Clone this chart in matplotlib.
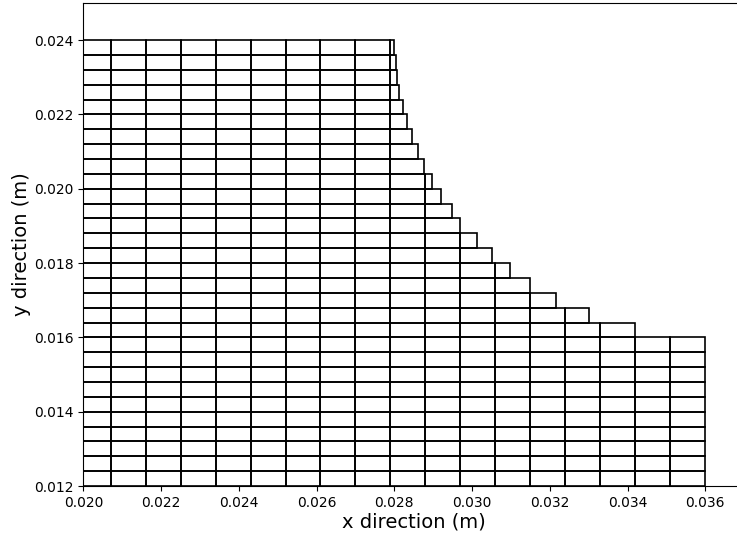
import numpy as np
import matplotlib
matplotlib.use('Agg')
import matplotlib.pyplot as plt
from matplotlib.ticker import MultipleLocator, FormatStrFormatter

# column edges of the structured part of the mesh (m)
x_edges = [0.0200, 0.0207, 0.0216, 0.0225, 0.0234, 0.0243, 0.0252, 0.0261,
           0.0270, 0.0279, 0.0288, 0.0297, 0.0306, 0.0315, 0.0324, 0.0333,
           0.0342, 0.0351, 0.0360]

# bottom of each cell row (m), row height 0.0004
row_bottoms = [0.0120, 0.0124, 0.0128, 0.0132, 0.0136, 0.0140, 0.0144, 0.0148,
               0.0152, 0.0156, 0.0160, 0.0164, 0.0168, 0.0172, 0.0176, 0.0180,
               0.0184, 0.0188, 0.0192, 0.0196, 0.0200, 0.0204, 0.0208, 0.0212,
               0.0216, 0.0220, 0.0224, 0.0228, 0.0232, 0.0236]
row_height = 0.0004

# right boundary of each row, following the wall profile
row_ends = [0.0360, 0.0360, 0.0360, 0.0360, 0.0360, 0.0360, 0.0360, 0.0360,
            0.0360, 0.0360, 0.0342, 0.0330, 0.03215, 0.03149, 0.03097, 0.03050,
            0.03012, 0.0297, 0.02947, 0.0292, 0.02897, 0.02876, 0.0286, 0.02845,
            0.02832, 0.02822, 0.02813, 0.02808, 0.02804, 0.0280]

fig = plt.figure(figsize=(7.37, 5.33), dpi=100)
ax = fig.add_axes([83.35 / 737, 47 / 533, 660.9 / 737, 483 / 533])

for y0, x_end in zip(row_bottoms, row_ends):
    edges = [x for x in x_edges if x < x_end - 1e-9] + [x_end]
    lefts = np.array(edges[:-1])
    widths = np.diff(edges)
    ax.barh(np.full(len(lefts), y0), widths, height=row_height, left=lefts,
            align='edge', fill=False, edgecolor='black', linewidth=1.2)

ax.set_xlim(0.020, 0.037)
ax.set_ylim(0.012, 0.025)
ax.xaxis.set_major_locator(MultipleLocator(0.002))
ax.yaxis.set_major_locator(MultipleLocator(0.002))
ax.xaxis.set_major_formatter(FormatStrFormatter('%.3f'))
ax.yaxis.set_major_formatter(FormatStrFormatter('%.3f'))
ax.tick_params(labelsize=10)
ax.set_xlabel('x direction (m)', fontsize=14, labelpad=2)
ax.set_ylabel('y direction (m)', fontsize=14, labelpad=2)

fig.savefig('out.png', dpi=100)
